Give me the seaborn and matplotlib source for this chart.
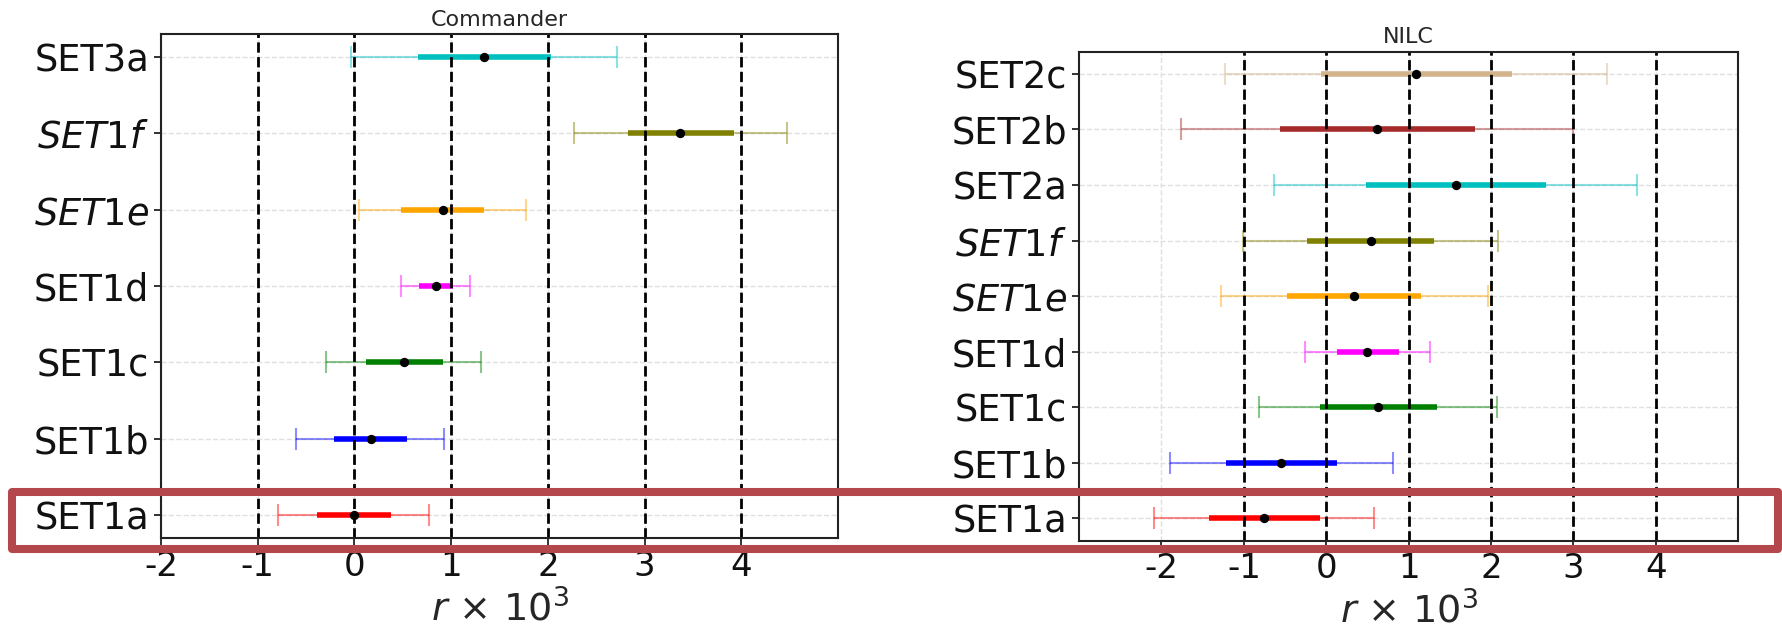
import matplotlib
matplotlib.use("Agg")
import matplotlib.pyplot as plt
import seaborn as sns
import numpy as np
import pandas as pd
from matplotlib.patches import Rectangle

# r x 10^3 constraints, best fit with 68% and 95% intervals
left_labels = ['SET1a', 'SET1b', 'SET1c', 'SET1d', '$SET1e$', '$SET1f$', 'SET3a']
left_best = [0.0, 0.17, 0.51, 0.84, 0.92, 3.37, 1.34]
left_lo68 = [-0.39, -0.21, 0.12, 0.67, 0.48, 2.83, 0.66]
left_hi68 = [0.38, 0.54, 0.92, 1.02, 1.34, 3.92, 2.03]
left_lo95 = [-0.79, -0.60, -0.29, 0.48, 0.05, 2.27, -0.04]
left_hi95 = [0.77, 0.93, 1.31, 1.20, 1.77, 4.47, 2.72]
left_colors = ['red', 'blue', 'green', 'magenta', 'orange', 'olive', 'c']

right_labels = ['SET1a', 'SET1b', 'SET1c', 'SET1d', '$SET1e$', '$SET1f$', 'SET2a', 'SET2b', 'SET2c']
right_best = [-0.76, -0.55, 0.63, 0.50, 0.34, 0.54, 1.57, 0.62, 1.09]
right_lo68 = [-1.42, -1.22, -0.08, 0.13, -0.47, -0.23, 0.48, -0.56, -0.06]
right_hi68 = [-0.08, 0.13, 1.35, 0.88, 1.15, 1.31, 2.67, 1.81, 2.25]
right_lo95 = [-2.09, -1.90, -0.81, -0.26, -1.28, -1.01, -0.63, -1.76, -1.23]
right_hi95 = [0.58, 0.81, 2.07, 1.26, 1.97, 2.09, 3.77, 3.00, 3.41]
right_colors = ['red', 'blue', 'green', 'magenta', 'orange', 'olive', 'c', 'brown', 'tan']

xticks = [-2, -1, 0, 1, 2, 3, 4]
vlines = [-1, 0, 1, 2, 3, 4]

sns.set_style('ticks', {'axes.grid': True, 'grid.linestyle': '--', 'grid.color': '#e0e0e0',
                        'axes.edgecolor': '#222222', 'xtick.color': '#111111', 'ytick.color': '#111111'})
plt.rcParams['font.family'] = ['DejaVu Sans']
plt.rcParams['mathtext.fontset'] = 'dejavusans'


def panel(ax, labels, best, lo68, hi68, lo95, hi95, colors, title, xlim):
    n = len(labels)
    df = pd.DataFrame({'label': labels, 'best': best, 'lo68': lo68, 'hi68': hi68,
                       'lo95': lo95, 'hi95': hi95, 'color': colors, 'pos': np.arange(n)})
    for _, row in df.iterrows():
        ax.errorbar(row['best'], row['pos'],
                    xerr=[[row['best'] - row['lo95']], [row['hi95'] - row['best']]],
                    fmt='none', ecolor=row['color'], alpha=0.45, elinewidth=1.5,
                    capsize=8, capthick=1.5, zorder=2)
        ax.hlines(row['pos'], row['lo68'], row['hi68'], color=row['color'], lw=4, zorder=2.2)
    for v in vlines:
        ax.axvline(v, color='black', ls='--', lw=2, zorder=2.5)
    sns.scatterplot(data=df, x='best', y='pos', color='black', s=45, edgecolor='black',
                    linewidth=0, zorder=3, ax=ax, legend=False)
    ax.set_xlim(*xlim)
    ax.set_ylim(-0.3 if n < 8 else -0.4, n - 0.7 if n < 8 else n - 0.6)
    ax.set_xticks(xticks)
    ax.set_xticklabels([str(t) for t in xticks], fontsize=24.5)
    ax.set_yticks(np.arange(n))
    ax.set_yticklabels(labels, fontsize=26.5)
    ax.tick_params(axis='both', length=5, width=1.2)
    ax.grid(True, ls='--', color='#e0e0e0', lw=1)
    ax.set_axisbelow(True)
    for s in ax.spines.values():
        s.set_linewidth(1.5)
        s.set_color('#222222')
    ax.set_title(title, fontsize=16, pad=6)
    ax.set_xlabel(r'$r$ $\times$ $10^3$', fontsize=27.5, labelpad=5)
    ax.set_ylabel('')


fig = plt.figure(figsize=(17.83, 6.29), dpi=100)
ax1 = fig.add_axes([0.0903, 0.1447, 0.3797, 0.8013])
ax2 = fig.add_axes([0.6052, 0.1404, 0.3696, 0.7777])

panel(ax1, left_labels, left_best, left_lo68, left_hi68, left_lo95, left_hi95,
      left_colors, 'Commander', (-2, 5))
panel(ax2, right_labels, right_best, right_lo68, right_hi68, right_lo95, right_hi95,
      right_colors, 'NILC', (-3, 5))

# highlight box round the SET1a row
fig.patches.append(Rectangle((0.0067, 0.1264), 0.9905, 0.0914, transform=fig.transFigure,
                             fill=False, edgecolor='#b3474b', lw=5.8, joinstyle='round',
                             zorder=10))

fig.savefig('out.png', dpi=100)
plt.close(fig)
